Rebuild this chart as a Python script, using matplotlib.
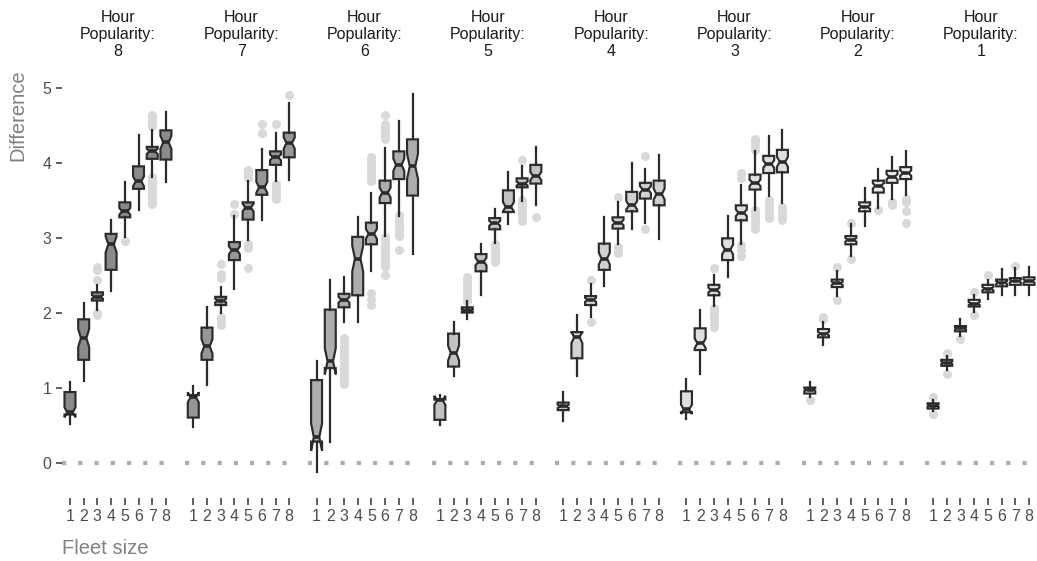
import numpy as np
import matplotlib.pyplot as plt

plt.rcParams['font.family'] = ['Liberation Sans', 'DejaVu Sans']

# facets, left to right
POPULARITY = [8, 7, 6, 5, 4, 3, 2, 1]
FLEET = [1, 2, 3, 4, 5, 6, 7, 8]
FILLS = ['#8a8a8a', '#979797', '#adadad', '#c2c2c2', '#d1d1d1', '#dedede', '#eaeaea', '#f4f4f4']

# box stats per facet, one value per fleet size
WHISLO = [
    [0.52, 1.10, 2.04, 2.30, 3.02, 3.38, 3.82, 3.75],
    [0.49, 1.04, 2.00, 2.32, 2.98, 3.24, 3.76, 3.78],
    [-0.11, 0.28, 1.88, 1.89, 2.57, 3.03, 3.30, 2.79],
    [0.51, 1.16, 1.92, 2.24, 2.94, 3.19, 3.50, 3.44],
    [0.57, 1.16, 1.95, 2.36, 2.93, 3.12, 3.20, 2.99],
    [0.59, 1.19, 2.10, 2.48, 2.93, 3.38, 3.56, 3.47],
    [0.88, 1.58, 2.23, 2.76, 3.16, 3.40, 3.53, 3.58],
    [0.70, 1.25, 1.70, 2.02, 2.19, 2.24, 2.24, 2.24],
]
Q1 = [
    [0.65, 1.38, 2.17, 2.58, 3.28, 3.66, 4.06, 4.05],
    [0.61, 1.38, 2.11, 2.71, 3.25, 3.58, 3.98, 4.08],
    [0.29, 1.27, 2.08, 2.24, 2.92, 3.47, 3.79, 3.57],
    [0.58, 1.29, 2.01, 2.56, 3.12, 3.35, 3.68, 3.73],
    [0.71, 1.40, 2.11, 2.58, 3.13, 3.36, 3.53, 3.44],
    [0.68, 1.51, 2.24, 2.71, 3.24, 3.65, 3.87, 3.88],
    [0.93, 1.68, 2.35, 2.92, 3.36, 3.61, 3.74, 3.79],
    [0.73, 1.30, 1.76, 2.09, 2.28, 2.36, 2.38, 2.38],
]
MED = [
    [0.68, 1.67, 2.22, 2.92, 3.36, 3.76, 4.16, 4.28],
    [0.88, 1.56, 2.17, 2.84, 3.41, 3.68, 4.08, 4.27],
    [0.35, 1.36, 2.18, 2.73, 3.06, 3.61, 3.98, 3.96],
    [0.84, 1.47, 2.04, 2.69, 3.20, 3.42, 3.73, 3.83],
    [0.76, 1.68, 2.18, 2.73, 3.21, 3.44, 3.65, 3.59],
    [0.72, 1.60, 2.31, 2.85, 3.34, 3.74, 3.99, 4.02],
    [0.98, 1.73, 2.40, 2.98, 3.42, 3.70, 3.82, 3.87],
    [0.77, 1.34, 1.80, 2.13, 2.33, 2.41, 2.43, 2.43],
]
Q3 = [
    [0.95, 1.92, 2.28, 3.06, 3.48, 3.96, 4.22, 4.44],
    [0.91, 1.81, 2.22, 2.95, 3.48, 3.91, 4.16, 4.41],
    [1.11, 2.05, 2.26, 3.02, 3.21, 3.77, 4.16, 4.32],
    [0.85, 1.73, 2.08, 2.79, 3.27, 3.64, 3.80, 3.98],
    [0.81, 1.75, 2.23, 2.93, 3.28, 3.62, 3.74, 3.77],
    [0.96, 1.80, 2.38, 3.00, 3.44, 3.85, 4.10, 4.18],
    [1.01, 1.79, 2.45, 3.03, 3.48, 3.77, 3.90, 3.95],
    [0.80, 1.38, 1.83, 2.18, 2.38, 2.45, 2.47, 2.48],
]
WHISHI = [
    [1.08, 2.14, 2.38, 3.24, 3.75, 4.38, 4.44, 4.69],
    [1.03, 2.08, 2.35, 3.30, 3.76, 4.19, 4.41, 4.80],
    [1.36, 2.45, 2.48, 3.28, 3.61, 4.21, 4.56, 4.92],
    [0.91, 1.88, 2.16, 2.92, 3.39, 3.89, 3.96, 4.22],
    [0.95, 1.98, 2.39, 3.29, 3.48, 4.00, 3.93, 4.11],
    [1.13, 2.05, 2.51, 3.30, 3.71, 4.16, 4.36, 4.45],
    [1.08, 1.88, 2.57, 3.19, 3.67, 3.92, 4.08, 4.16],
    [0.84, 1.43, 1.92, 2.24, 2.45, 2.59, 2.60, 2.62],
]
OUTLIERS = [
    [[], [], [2.62, 2.58, 2.45, 2.00, 1.98], [], [2.96], [],
     [4.64, 4.60, 4.55, 4.50, 3.82, 3.78, 3.74, 3.70, 3.66, 3.62, 3.58, 3.54, 3.50, 3.46], []],
    [[], [], [2.66, 2.53, 2.47, 1.95, 1.90, 1.84], [3.46, 3.33],
     [3.91, 3.87, 3.83, 3.80, 2.93, 2.90, 2.87, 2.61], [4.53, 4.40],
     [4.53, 3.73, 3.69, 3.65, 3.61, 3.57, 3.53], [4.91]],
    [[], [],
     [1.67, 1.62, 1.58, 1.54, 1.50, 1.46, 1.42, 1.38, 1.34, 1.30, 1.26, 1.22, 1.18, 1.14, 1.10, 1.06],
     [], [4.09, 4.05, 4.01, 3.97, 3.93, 3.89, 3.85, 3.81, 3.77, 2.27, 2.19, 2.11],
     [4.64, 4.53, 4.49, 4.45, 4.41, 4.37, 4.33, 3.02, 2.98, 2.94, 2.90, 2.86, 2.82, 2.78,
      2.74, 2.70, 2.66, 2.62, 2.51],
     [3.31, 3.27, 3.23, 3.19, 3.15, 3.11, 3.07, 3.03, 2.84], []],
    [[], [1.52], [2.49, 2.45, 2.41, 2.37, 2.33, 2.29, 2.25, 2.21, 2.17], [],
     [2.93, 2.89, 2.85, 2.81, 2.77, 2.73, 2.69], [],
     [4.04, 3.51, 3.47, 3.43, 3.39, 3.35, 3.31, 3.27, 3.23], [3.29]],
    [[], [], [2.45, 1.89], [], [3.55, 2.89, 2.85, 2.80], [], [4.10, 3.13], []],
    [[], [], [2.60, 2.07, 2.02, 1.97, 1.92, 1.87, 1.82], [],
     [3.87, 3.80, 2.91, 2.84, 2.76],
     [4.33, 4.28, 4.23, 4.18, 3.38, 3.33, 3.28, 3.23, 3.18, 3.13],
     [3.51, 3.46, 3.41, 3.36, 3.31, 3.27], [3.42, 3.37, 3.32, 3.27, 3.24]],
    [[0.84], [1.95, 1.92], [2.62, 2.18], [3.21, 2.73], [], [3.38],
     [3.49, 3.46, 3.44], [3.53, 3.48, 3.37, 3.20]],
    [[0.88, 0.66], [1.47, 1.19], [1.66], [2.29, 1.98], [2.51], [], [2.63], []],
]
N_OBS = 50  # runs per box, sets notch size like ggplot

W, H = 1037, 561
fig = plt.figure(figsize=(W / 100, H / 100), dpi=100)

edge = '#2b2b2b'
for i, hp in enumerate(POPULARITY):
    left = 61.75 + i * 123.3
    ax = fig.add_axes([left / W, (H - 490.3) / H, 112.4 / W, 414.7 / H])
    stats = []
    for j in range(len(FLEET)):
        q1, med, q3 = Q1[i][j], MED[i][j], Q3[i][j]
        half = 1.58 * (q3 - q1) / np.sqrt(N_OBS)
        stats.append(dict(med=med, q1=q1, q3=q3, whislo=WHISLO[i][j], whishi=WHISHI[i][j],
                          cilo=med - half, cihi=med + half, fliers=OUTLIERS[i][j]))
    ax.axhline(0, color='#ababab', lw=3, linestyle=(0, (1, 2.9)), dash_capstyle='butt', zorder=0)
    ax.bxp(stats, positions=FLEET, widths=0.8, shownotches=True, showcaps=False,
           patch_artist=True,
           boxprops=dict(facecolor=FILLS[i], edgecolor=edge, linewidth=1.55),
           medianprops=dict(color=edge, linewidth=2.6),
           whiskerprops=dict(color=edge, linewidth=1.6),
           flierprops=dict(marker='o', markerfacecolor='#d9d9d9', markeredgecolor='none',
                           markersize=6.5, zorder=1))
    ax.set_xlim(0.4, 8.6)
    ax.set_ylim(-0.36, 5.17)
    for s in ax.spines.values():
        s.set_visible(False)
    ax.spines['bottom'].set_position(('outward', 5.8))
    ax.set_xticks(FLEET)
    ax.set_xticklabels([str(k) for k in FLEET])
    ax.tick_params(axis='x', length=5, width=1.1, color='#333333', labelsize=11.5,
                   labelcolor='#4d4d4d', pad=3)
    if i == 0:
        ax.set_yticks([0, 1, 2, 3, 4, 5])
        ax.tick_params(axis='y', length=4.5, width=1.1, color='#333333', labelsize=11.5,
                       labelcolor='#4d4d4d', pad=3)
    else:
        ax.set_yticks([])
    fig.text((left + 56.2) / W, 1 - 10 / H, 'Hour\nPopularity:\n%d' % hp, ha='center', va='top',
             fontsize=11.5, color='#1a1a1a', linespacing=1.17)

fig.text(18 / W, 1 - 69 / H, 'Difference', rotation=90, ha='center', va='top',
         fontsize=14.5, color='#808080')
fig.text(61.5 / W, 1 - 548 / H, 'Fleet size', ha='left', va='center',
         fontsize=14.5, color='#808080')

fig.savefig('out.png', dpi=100)
